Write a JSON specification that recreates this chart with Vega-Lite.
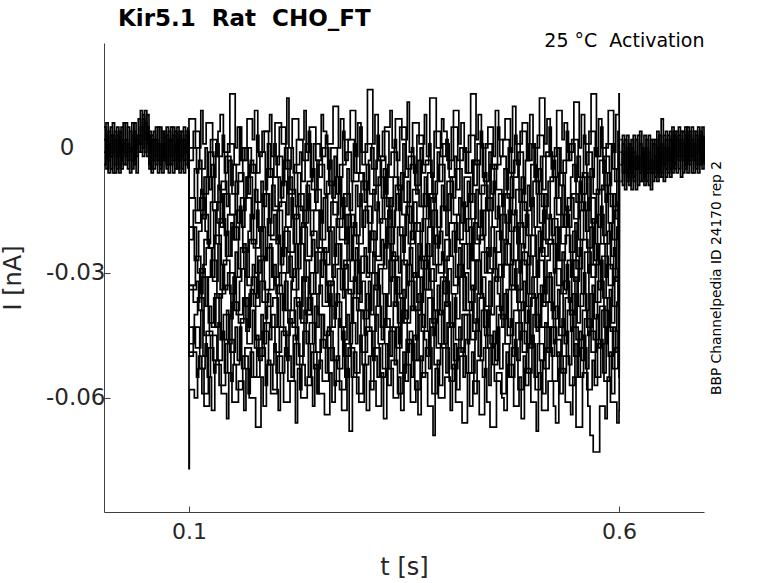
{
  "$schema": "https://vega.github.io/schema/vega-lite/v6.json",
  "width": 600,
  "height": 469,
  "autosize": {"type": "none"},
  "padding": {"left": 104, "top": 43, "right": 74, "bottom": 71},
  "background": "white",
  "config": {"view": {"stroke": null}, "font": "DejaVu Sans"},
  "title": {
    "text": "Kir5.1\u00a0 Rat\u00a0 CHO_FT",
    "anchor": "start",
    "frame": "group",
    "dx": 14,
    "offset": 0,
    "fontSize": 23,
    "fontWeight": "bold",
    "font": "DejaVu Sans",
    "color": "black"
  },
  "datasets": {
    "base": [
      {"s":0,"t":0.0012,"w":2,"x":-4,"y":5,"z":-1},
      {"s":0,"t":0.0035,"w":-5,"x":3,"y":-2,"z":6},
      {"s":0,"t":0.006,"w":4,"x":-6,"y":1,"z":-3},
      {"s":0,"t":0.0085,"w":-2,"x":5,"y":-5,"z":3},
      {"s":0,"t":0.011,"w":6,"x":-1,"y":3,"z":-6},
      {"s":0,"t":0.0135,"w":-4,"x":2,"y":-6,"z":4},
      {"s":0,"t":0.016,"w":3,"x":-5,"y":5,"z":-2},
      {"s":0,"t":0.0185,"w":-6,"x":4,"y":-1,"z":2},
      {"s":0,"t":0.021,"w":5,"x":-3,"y":2,"z":-5},
      {"s":0,"t":0.0235,"w":-1,"x":6,"y":-4,"z":1},
      {"s":0,"t":0.026,"w":2,"x":-2,"y":6,"z":-4},
      {"s":0,"t":0.0285,"w":-5,"x":1,"y":-3,"z":5},
      {"s":0,"t":0.031,"w":4,"x":-6,"y":0,"z":-1},
      {"s":0,"t":0.0335,"w":-3,"x":3,"y":-5,"z":6},
      {"s":0,"t":0.036,"w":6,"x":-4,"y":4,"z":-3},
      {"s":0,"t":0.0385,"w":-2,"x":2,"y":-6,"z":3},
      {"s":0,"t":0.041,"w":7,"x":1,"y":3,"z":-1},
      {"s":0,"t":0.0435,"w":1,"x":9,"y":-1,"z":5},
      {"s":0,"t":0.046,"w":8,"x":0,"y":7,"z":-2},
      {"s":0,"t":0.0485,"w":-1,"x":6,"y":2,"z":9},
      {"s":0,"t":0.051,"w":5,"x":-2,"y":8,"z":1},
      {"s":0,"t":0.0535,"w":-4,"x":3,"y":-5,"z":4},
      {"s":0,"t":0.056,"w":3,"x":-5,"y":2,"z":-6},
      {"s":0,"t":0.0585,"w":-5,"x":4,"y":-3,"z":2},
      {"s":0,"t":0.061,"w":2,"x":-2,"y":5,"z":-4},
      {"s":0,"t":0.0635,"w":-3,"x":5,"y":-6,"z":1},
      {"s":0,"t":0.066,"w":5,"x":-4,"y":1,"z":-5},
      {"s":0,"t":0.0685,"w":-6,"x":1,"y":-2,"z":4},
      {"s":0,"t":0.071,"w":1,"x":-3,"y":4,"z":-2},
      {"s":0,"t":0.0735,"w":-4,"x":5,"y":-5,"z":3},
      {"s":0,"t":0.076,"w":4,"x":-6,"y":2,"z":-4},
      {"s":0,"t":0.0785,"w":-2,"x":2,"y":-4,"z":5},
      {"s":0,"t":0.081,"w":5,"x":-3,"y":3,"z":-6},
      {"s":0,"t":0.0835,"w":-5,"x":4,"y":-1,"z":1},
      {"s":0,"t":0.086,"w":2,"x":-5,"y":5,"z":-3},
      {"s":0,"t":0.0885,"w":-3,"x":3,"y":-6,"z":4},
      {"s":0,"t":0.091,"w":4,"x":-2,"y":2,"z":-5},
      {"s":0,"t":0.0935,"w":-6,"x":5,"y":-3,"z":2},
      {"s":0,"t":0.096,"w":3,"x":-4,"y":4,"z":-1},
      {"s":0,"t":0.0985,"w":-2,"x":2,"y":-5,"z":5},
      {"s":1,"t":0.6015,"w":-8,"x":2,"y":-4,"z":-1},
      {"s":1,"t":0.604,"w":1,"x":-9,"y":3,"z":-6},
      {"s":1,"t":0.6065,"w":-6,"x":-1,"y":-10,"z":2},
      {"s":1,"t":0.609,"w":3,"x":-7,"y":0,"z":-8},
      {"s":1,"t":0.6115,"w":-9,"x":1,"y":-5,"z":-2},
      {"s":1,"t":0.614,"w":0,"x":-6,"y":2,"z":-10},
      {"s":1,"t":0.6165,"w":-7,"x":3,"y":-8,"z":-1},
      {"s":1,"t":0.619,"w":2,"x":-10,"y":-2,"z":-5},
      {"s":1,"t":0.6215,"w":-5,"x":-2,"y":-9,"z":3},
      {"s":1,"t":0.624,"w":4,"x":-8,"y":1,"z":-6},
      {"s":1,"t":0.6265,"w":-8,"x":0,"y":-4,"z":-1},
      {"s":1,"t":0.629,"w":-1,"x":-7,"y":3,"z":-9},
      {"s":1,"t":0.6315,"w":-6,"x":2,"y":-8,"z":0},
      {"s":1,"t":0.634,"w":3,"x":-9,"y":-1,"z":-5},
      {"s":1,"t":0.6365,"w":-10,"x":-3,"y":-6,"z":2},
      {"s":1,"t":0.639,"w":1,"x":-6,"y":2,"z":-8},
      {"s":1,"t":0.6415,"w":-5,"x":2,"y":-7,"z":-2},
      {"s":1,"t":0.644,"w":4,"x":-8,"y":0,"z":-6},
      {"s":1,"t":0.6465,"w":-7,"x":-1,"y":-5,"z":3},
      {"s":1,"t":0.649,"w":7,"x":-6,"y":1,"z":-7},
      {"s":1,"t":0.6515,"w":-4,"x":3,"y":-8,"z":0},
      {"s":1,"t":0.654,"w":2,"x":-7,"y":4,"z":-5},
      {"s":1,"t":0.6565,"w":-6,"x":0,"y":-3,"z":3},
      {"s":1,"t":0.659,"w":4,"x":-5,"y":2,"z":-7},
      {"s":1,"t":0.6615,"w":-3,"x":5,"y":-6,"z":1},
      {"s":1,"t":0.664,"w":3,"x":-4,"y":4,"z":-5},
      {"s":1,"t":0.6665,"w":-6,"x":2,"y":-2,"z":4},
      {"s":1,"t":0.669,"w":5,"x":-5,"y":3,"z":-3},
      {"s":1,"t":0.6715,"w":-2,"x":4,"y":-7,"z":2},
      {"s":1,"t":0.674,"w":4,"x":-3,"y":1,"z":-6},
      {"s":1,"t":0.6765,"w":-5,"x":5,"y":-4,"z":3},
      {"s":1,"t":0.679,"w":2,"x":-6,"y":5,"z":-2},
      {"s":1,"t":0.6815,"w":-4,"x":3,"y":-3,"z":4},
      {"s":1,"t":0.684,"w":5,"x":-2,"y":2,"z":-6},
      {"s":1,"t":0.6865,"w":-3,"x":4,"y":-6,"z":1},
      {"s":1,"t":0.689,"w":3,"x":-5,"y":4,"z":-4},
      {"s":1,"t":0.6915,"w":-6,"x":2,"y":-1,"z":5},
      {"s":1,"t":0.694,"w":4,"x":-4,"y":3,"z":-3},
      {"s":1,"t":0.6965,"w":-2,"x":5,"y":-5,"z":2},
      {"s":1,"t":0.6988,"w":3,"x":-3,"y":2,"z":-4}
    ],
    "step": [
      {"t":0.0998,"a":1,"b":-2,"c":3,"d":0,"e":-3,"f":2,"g":-1,"h":4,"i":-4,"j":1,"k":0,"l":-2,"m":3,"n":-1,"o":2,"p":-3},
      {"t":0.1,"a":7,"b":-3,"c":0,"d":-12,"e":-12,"f":-22,"g":-19,"h":-19,"i":-33,"j":-33,"k":-34,"l":-47,"m":-43,"n":-50,"o":-49,"p":-77},
      {"t":0.1004,"p":-58},
      {"t":0.1075,"a":0,"e":-18,"i":-26,"m":-48},{"t":0.105,"b":4,"f":-15,"j":-37,"n":-43},{"t":0.10875,"c":-6,"g":-27,"k":-32,"o":-55},{"t":0.10625,"d":-5,"h":-27,"l":-40,"p":-60},
      {"t":0.11375,"a":9,"e":-10,"i":-35,"m":-39},{"t":0.1125,"b":-5,"f":-12,"j":-29,"n":-53},{"t":0.11125,"c":-3,"g":-20,"k":-39,"o":-50},{"t":0.11,"d":-15,"h":-30,"l":-36,"p":-53},
      {"t":0.11625,"a":1,"e":-17,"i":-28,"m":-50},{"t":0.11875,"b":0,"f":-20,"j":-38,"n":-47},{"t":0.115,"c":-11,"g":-16,"k":-31,"o":-59},{"t":0.1175,"d":-7,"h":-22,"l":-45,"p":-62},
      {"t":0.12,"a":6,"e":-7,"i":-24,"m":-44},{"t":0.12125,"b":-7,"f":-23,"j":-31,"n":-55},{"t":0.1225,"c":-1,"g":-24,"k":-42,"o":-48},{"t":0.12375,"d":-10,"h":-24,"l":-38,"p":-55},
      {"t":0.1275,"a":-2,"e":-15,"i":-32,"m":-51},{"t":0.125,"b":2,"f":-13,"j":-27,"n":-45},{"t":0.12875,"c":-7,"g":-15,"k":-36,"o":-54},{"t":0.12625,"d":-4,"h":-31,"l":-43,"p":-63},
      {"t":0.13375,"a":4,"e":-9,"i":-23,"m":-42},{"t":0.1325,"b":-2,"f":-18,"j":-36,"n":-51},{"t":0.13125,"c":1,"g":-23,"k":-43,"o":-51},{"t":0.13,"d":-13,"h":-21,"l":-35,"p":-52},
      {"t":0.13625,"a":8,"e":-19,"i":-34,"m":-46},{"t":0.13875,"b":3,"f":-11,"j":-28,"n":-44},{"t":0.135,"c":-10,"g":-17,"k":-35,"o":-57},{"t":0.1375,"d":-8,"h":-28,"l":-46,"p":-59},
      {"t":0.14,"a":-1,"e":-11,"i":-27,"m":-40},{"t":0.14125,"b":-6,"f":-21,"j":-34,"n":-54},{"t":0.1425,"c":-2,"g":-26,"k":-33,"o":-47},{"t":0.14375,"d":-14,"h":-20,"l":-39,"p":-65},
      {"t":0.1475,"a":13,"e":-16,"i":-35,"m":-49},{"t":0.145,"b":1,"f":-16,"j":-30,"n":-46},{"t":0.14875,"c":-9,"g":-18,"k":-41,"o":-56},{"t":0.14625,"d":-3,"h":-26,"l":-47,"p":-54},
      {"t":0.15375,"a":0,"e":-8,"i":-25,"m":-43},{"t":0.1525,"b":-4,"f":-22,"j":-39,"n":-52},{"t":0.15125,"c":-4,"g":-22,"k":-31,"o":-52},{"t":0.15,"d":-11,"h":-19,"l":-37,"p":-61},
      {"t":0.15625,"a":5,"e":-18,"i":-31,"m":-51},{"t":0.15875,"b":5,"f":-14,"j":-32,"n":-43},{"t":0.155,"c":-8,"g":-15,"k":-40,"o":-58},{"t":0.1575,"d":-6,"h":-29,"l":-42,"p":-56},
      {"t":0.16,"a":-3,"e":-12,"i":-24,"m":-41},{"t":0.16125,"b":-3,"f":-19,"j":-29,"n":-53},{"t":0.1625,"c":0,"g":-25,"k":-36,"o":-50},{"t":0.16375,"d":-15,"h":-23,"l":-36,"p":-63},
      {"t":0.1675,"a":7,"e":-7,"i":-33,"m":-47},{"t":0.165,"b":0,"f":-12,"j":-38,"n":-48},{"t":0.16875,"c":-11,"g":-20,"k":-43,"o":-59},{"t":0.16625,"d":-7,"h":-31,"l":-44,"p":-53},
      {"t":0.17375,"a":2,"e":-17,"i":-28,"m":-39},{"t":0.1725,"b":-6,"f":-23,"j":-31,"n":-55},{"t":0.17125,"c":-3,"g":-16,"k":-34,"o":-49},{"t":0.17,"d":-4,"h":-22,"l":-35,"p":-60},
      {"t":0.17625,"a":9,"e":-10,"i":-35,"m":-48},{"t":0.17875,"b":3,"f":-15,"j":-36,"n":-45},{"t":0.175,"c":-6,"g":-24,"k":-38,"o":-55},{"t":0.1775,"d":-13,"h":-30,"l":-46,"p":-67},
      {"t":0.18,"a":-1,"e":-19,"i":-26,"m":-50},{"t":0.18125,"b":-2,"f":-20,"j":-27,"n":-51},{"t":0.1825,"c":-1,"g":-19,"k":-32,"o":-48},{"t":0.18375,"d":-8,"h":-19,"l":-40,"p":-55},
      {"t":0.1875,"a":4,"e":-11,"i":-34,"m":-42},{"t":0.185,"b":4,"f":-11,"j":-37,"n":-44},{"t":0.18875,"c":-10,"g":-27,"k":-41,"o":-57},{"t":0.18625,"d":-14,"h":-27,"l":-47,"p":-62},
      {"t":0.19375,"a":8,"e":-18,"i":-23,"m":-46},{"t":0.1925,"b":-7,"f":-21,"j":-34,"n":-52},{"t":0.19125,"c":1,"g":-17,"k":-35,"o":-51},{"t":0.19,"d":-5,"h":-24,"l":-38,"p":-52},
      {"t":0.19625,"a":-2,"e":-9,"i":-31,"m":-40},{"t":0.19875,"b":1,"f":-16,"j":-28,"n":-47},{"t":0.195,"c":-7,"g":-22,"k":-43,"o":-59},{"t":0.1975,"d":-15,"h":-31,"l":-36,"p":-58},
      {"t":0.2,"a":6,"e":-14,"i":-33,"m":-49},{"t":0.20125,"b":-4,"f":-23,"j":-35,"n":-54},{"t":0.2025,"c":-2,"g":-15,"k":-33,"o":-50},{"t":0.20375,"d":-7,"h":-21,"l":-43,"p":-63},
      {"t":0.2075,"a":1,"e":-8,"i":-24,"m":-44},{"t":0.205,"b":5,"f":-13,"j":-30,"n":-43},{"t":0.20875,"c":-9,"g":-26,"k":-39,"o":-54},{"t":0.20625,"d":-12,"h":-28,"l":-35,"p":-54},
      {"t":0.21375,"a":12,"e":-16,"i":-30,"m":-51},{"t":0.2125,"b":-5,"f":-19,"j":-39,"n":-50},{"t":0.21125,"c":0,"g":-19,"k":-32,"o":-48},{"t":0.21,"d":-3,"h":-20,"l":-45,"p":-61},
      {"t":0.21625,"a":0,"e":-7,"i":-26,"m":-41},{"t":0.21875,"b":0,"f":-12,"j":-32,"n":-55},{"t":0.215,"c":-11,"g":-25,"k":-42,"o":-56},{"t":0.2175,"d":-10,"h":-31,"l":-39,"p":-56},
      {"t":0.22,"a":7,"e":-17,"i":-34,"m":-43},{"t":0.22125,"b":-6,"f":-23,"j":-29,"n":-45},{"t":0.2225,"c":-4,"g":-16,"k":-36,"o":-47},{"t":0.22375,"d":-14,"h":-23,"l":-46,"p":-66},
      {"t":0.2275,"a":2,"e":-11,"i":-23,"m":-50},{"t":0.225,"b":2,"f":-14,"j":-38,"n":-52},{"t":0.22875,"c":-1,"g":-23,"k":-41,"o":-58},{"t":0.22625,"d":-6,"h":-29,"l":-37,"p":-53},
      {"t":0.23375,"a":9,"e":-19,"i":-32,"m":-39},{"t":0.2325,"b":-3,"f":-18,"j":-31,"n":-44},{"t":0.23125,"c":-8,"g":-18,"k":-31,"o":-52},{"t":0.23,"d":-15,"h":-19,"l":-42,"p":-60},
      {"t":0.23625,"a":-1,"e":-9,"i":-27,"m":-47},{"t":0.23875,"b":4,"f":-11,"j":-39,"n":-55},{"t":0.235,"c":1,"g":-27,"k":-40,"o":-57},{"t":0.2375,"d":-8,"h":-26,"l":-36,"p":-55},
      {"t":0.24,"a":5,"e":-15,"i":-35,"m":-42},{"t":0.24125,"b":-7,"f":-21,"j":-30,"n":-47},{"t":0.2425,"c":-10,"g":-20,"k":-35,"o":-49},{"t":0.24375,"d":-5,"h":-22,"l":-47,"p":-62},
      {"t":0.2475,"a":-3,"e":-10,"i":-25,"m":-49},{"t":0.245,"b":1,"f":-15,"j":-35,"n":-53},{"t":0.24875,"c":-3,"g":-24,"k":-43,"o":-59},{"t":0.24625,"d":-13,"h":-30,"l":-38,"p":-52},
      {"t":0.25375,"a":8,"e":-18,"i":-31,"m":-40},{"t":0.2525,"b":-2,"f":-22,"j":-27,"n":-46},{"t":0.25125,"c":-7,"g":-15,"k":-33,"o":-51},{"t":0.25,"d":-4,"h":-24,"l":-40,"p":-59},
      {"t":0.25625,"a":4,"e":-12,"i":-24,"m":-48},{"t":0.25875,"b":3,"f":-11,"j":-37,"n":-54},{"t":0.255,"c":0,"g":-25,"k":-38,"o":-56},{"t":0.2575,"d":-11,"h":-28,"l":-45,"p":-64},
      {"t":0.26,"a":1,"e":-8,"i":-33,"m":-44},{"t":0.26125,"b":-5,"f":-20,"j":-32,"n":-43},{"t":0.2625,"c":-9,"g":-19,"k":-32,"o":-48},{"t":0.26375,"d":-3,"h":-20,"l":-35,"p":-54},
      {"t":0.2675,"a":10,"e":-16,"i":-28,"m":-51},{"t":0.265,"b":0,"f":-13,"j":-38,"n":-51},{"t":0.26875,"c":-2,"g":-26,"k":-41,"o":-57},{"t":0.26625,"d":-12,"h":-31,"l":-43,"p":-61},
      {"t":0.27375,"a":0,"e":-7,"i":-23,"m":-41},{"t":0.2725,"b":-7,"f":-19,"j":-29,"n":-53},{"t":0.27125,"c":-11,"g":-17,"k":-35,"o":-50},{"t":0.27,"d":-7,"h":-23,"l":-37,"p":-56},
      {"t":0.27625,"a":7,"e":-17,"i":-34,"m":-43},{"t":0.27875,"b":4,"f":-12,"j":-36,"n":-44},{"t":0.275,"c":-4,"g":-22,"k":-43,"o":-58},{"t":0.2775,"d":-14,"h":-29,"l":-46,"p":-63},
      {"t":0.28,"a":2,"e":-11,"i":-27,"m":-50},{"t":0.28125,"b":-3,"f":-23,"j":-28,"n":-55},{"t":0.2825,"c":-1,"g":-16,"k":-34,"o":-47},{"t":0.28375,"d":-5,"h":-19,"l":-40,"p":-53},
      {"t":0.2875,"a":9,"e":-19,"i":-32,"m":-42},{"t":0.285,"b":2,"f":-16,"j":-35,"n":-48},{"t":0.28875,"c":-8,"g":-27,"k":-42,"o":-55},{"t":0.28625,"d":-15,"h":-27,"l":-47,"p":-68},
      {"t":0.29375,"a":-2,"e":-9,"i":-24,"m":-47},{"t":0.2925,"b":-6,"f":-21,"j":-27,"n":-54},{"t":0.29125,"c":1,"g":-18,"k":-31,"o":-49},{"t":0.29,"d":-8,"h":-21,"l":-36,"p":-55},
      {"t":0.29625,"a":6,"e":-14,"i":-35,"m":-39},{"t":0.29875,"b":5,"f":-11,"j":-37,"n":-45},{"t":0.295,"c":-6,"g":-23,"k":-39,"o":-59},{"t":0.2975,"d":-6,"h":-30,"l":-39,"p":-61},
      {"t":0.3,"a":-1,"e":-8,"i":-26,"m":-49},{"t":0.30125,"b":-4,"f":-19,"j":-32,"n":-52},{"t":0.3025,"c":-10,"g":-15,"k":-41,"o":-52},{"t":0.30375,"d":-13,"h":-24,"l":-45,"p":-52},
      {"t":0.3075,"a":14,"e":-18,"i":-30,"m":-44},{"t":0.305,"b":1,"f":-14,"j":-39,"n":-43},{"t":0.30875,"c":-3,"g":-25,"k":-32,"o":-50},{"t":0.30625,"d":-4,"h":-31,"l":-35,"p":-63},
      {"t":0.31375,"a":1,"e":-10,"i":-25,"m":-51},{"t":0.3125,"b":-5,"f":-22,"j":-30,"n":-50},{"t":0.31125,"c":0,"g":-20,"k":-40,"o":-58},{"t":0.31,"d":-11,"h":-20,"l":-44,"p":-56},
      {"t":0.31625,"a":8,"e":-15,"i":-34,"m":-40},{"t":0.31875,"b":3,"f":-13,"j":-38,"n":-55},{"t":0.315,"c":-9,"g":-26,"k":-33,"o":-48},{"t":0.3175,"d":-3,"h":-27,"l":-38,"p":-62},
      {"t":0.32,"a":-3,"e":-7,"i":-28,"m":-47},{"t":0.32125,"b":-2,"f":-18,"j":-29,"n":-47},{"t":0.3225,"c":-2,"g":-17,"k":-43,"o":-55},{"t":0.32375,"d":-12,"h":-22,"l":-46,"p":-54},
      {"t":0.3275,"a":5,"e":-17,"i":-23,"m":-41},{"t":0.325,"b":4,"f":-12,"j":-35,"n":-53},{"t":0.32875,"c":-11,"g":-24,"k":-35,"o":-47},{"t":0.32625,"d":-5,"h":-29,"l":-35,"p":-65},
      {"t":0.33375,"a":9,"e":-12,"i":-32,"m":-50},{"t":0.3325,"b":-7,"f":-23,"j":-27,"n":-44},{"t":0.33125,"c":-4,"g":-15,"k":-38,"o":-57},{"t":0.33,"d":-14,"h":-19,"l":-43,"p":-53},
      {"t":0.33625,"a":0,"e":-19,"i":-25,"m":-43},{"t":0.33875,"b":2,"f":-15,"j":-38,"n":-52},{"t":0.335,"c":-1,"g":-27,"k":-31,"o":-51},{"t":0.3375,"d":-7,"h":-26,"l":-37,"p":-60},
      {"t":0.34,"a":7,"e":-9,"i":-35,"m":-48},{"t":0.34125,"b":-3,"f":-11,"j":-31,"n":-43},{"t":0.3425,"c":-10,"g":-19,"k":-42,"o":-59},{"t":0.34375,"d":-15,"h":-30,"l":-47,"p":-55},
      {"t":0.3475,"a":2,"e":-16,"i":-27,"m":-39},{"t":0.345,"b":5,"f":-21,"j":-36,"n":-54},{"t":0.34875,"c":1,"g":-25,"k":-34,"o":-49},{"t":0.34625,"d":-6,"h":-21,"l":-36,"p":-63},
      {"t":0.35375,"a":11,"e":-8,"i":-33,"m":-49},{"t":0.3525,"b":-5,"f":-14,"j":-28,"n":-46},{"t":0.35125,"c":-7,"g":-16,"k":-41,"o":-56},{"t":0.35,"d":-13,"h":-28,"l":-42,"p":-52},
      {"t":0.35625,"a":-1,"e":-18,"i":-24,"m":-44},{"t":0.35875,"b":0,"f":-22,"j":-39,"n":-55},{"t":0.355,"c":-2,"g":-23,"k":-32,"o":-47},{"t":0.3575,"d":-4,"h":-20,"l":-38,"p":-61},
      {"t":0.36,"a":6,"e":-10,"i":-31,"m":-51},{"t":0.36125,"b":-6,"f":-13,"j":-30,"n":-45},{"t":0.3625,"c":-9,"g":-18,"k":-39,"o":-58},{"t":0.36375,"d":-11,"h":-31,"l":-46,"p":-56},
      {"t":0.3675,"a":1,"e":-14,"i":-26,"m":-40},{"t":0.365,"b":3,"f":-20,"j":-37,"n":-51},{"t":0.36875,"c":0,"g":-27,"k":-31,"o":-50},{"t":0.36625,"d":-3,"h":-23,"l":-35,"p":-64},
      {"t":0.37375,"a":8,"e":-7,"i":-34,"m":-46},{"t":0.3725,"b":-4,"f":-11,"j":-27,"n":-44},{"t":0.37125,"c":-6,"g":-17,"k":-43,"o":-55},{"t":0.37,"d":-14,"h":-29,"l":-44,"p":-54},
      {"t":0.37625,"a":-2,"e":-17,"i":-23,"m":-50},{"t":0.37875,"b":1,"f":-19,"j":-34,"n":-53},{"t":0.375,"c":-3,"g":-26,"k":-34,"o":-48},{"t":0.3775,"d":-6,"h":-19,"l":-36,"p":-62},
      {"t":0.38,"a":12,"e":-11,"i":-32,"m":-41},{"t":0.38125,"b":-7,"f":-12,"j":-29,"n":-43},{"t":0.3825,"c":-11,"g":-15,"k":-42,"o":-59},{"t":0.38375,"d":-13,"h":-28,"l":-45,"p":-69},
      {"t":0.3875,"a":0,"e":-19,"i":-28,"m":-48},{"t":0.385,"b":4,"f":-23,"j":-39,"n":-52},{"t":0.38875,"c":-1,"g":-24,"k":-33,"o":-51},{"t":0.38625,"d":-8,"h":-21,"l":-39,"p":-53},
      {"t":0.39375,"a":7,"e":-9,"i":-25,"m":-39},{"t":0.3925,"b":-2,"f":-14,"j":-31,"n":-47},{"t":0.39125,"c":-8,"g":-20,"k":-40,"o":-57},{"t":0.39,"d":-4,"h":-30,"l":-47,"p":-60},
      {"t":0.39625,"a":4,"e":-15,"i":-35,"m":-47},{"t":0.39875,"b":2,"f":-21,"j":-38,"n":-54},{"t":0.395,"c":1,"g":-27,"k":-32,"o":-48},{"t":0.3975,"d":-15,"h":-22,"l":-37,"p":-55},
      {"t":0.4,"a":-3,"e":-8,"i":-26,"m":-42},{"t":0.40125,"b":-5,"f":-11,"j":-29,"n":-43},{"t":0.4025,"c":-7,"g":-18,"k":-43,"o":-56},{"t":0.40375,"d":-7,"h":-26,"l":-43,"p":-63},
      {"t":0.4075,"a":9,"e":-16,"i":-33,"m":-51},{"t":0.405,"b":5,"f":-18,"j":-35,"n":-53},{"t":0.40875,"c":-2,"g":-25,"k":-36,"o":-47},{"t":0.40625,"d":-12,"h":-20,"l":-35,"p":-52},
      {"t":0.41375,"a":1,"e":-12,"i":-24,"m":-43},{"t":0.4125,"b":-3,"f":-22,"j":-28,"n":-48},{"t":0.41125,"c":-10,"g":-16,"k":-41,"o":-58},{"t":0.41,"d":-5,"h":-31,"l":-46,"p":-61},
      {"t":0.41625,"a":6,"e":-18,"i":-31,"m":-49},{"t":0.41875,"b":0,"f":-13,"j":-39,"n":-55},{"t":0.415,"c":0,"g":-23,"k":-31,"o":-50},{"t":0.4175,"d":-14,"h":-23,"l":-40,"p":-66},
      {"t":0.42,"a":-1,"e":-7,"i":-23,"m":-40},{"t":0.42125,"b":-6,"f":-20,"j":-30,"n":-46},{"t":0.4225,"c":-6,"g":-17,"k":-39,"o":-54},{"t":0.42375,"d":-8,"h":-29,"l":-47,"p":-54},
      {"t":0.4275,"a":13,"e":-17,"i":-34,"m":-46},{"t":0.425,"b":3,"f":-11,"j":-37,"n":-54},{"t":0.42875,"c":-3,"g":-27,"k":-33,"o":-49},{"t":0.42625,"d":-13,"h":-19,"l":-37,"p":-62},
      {"t":0.43375,"a":2,"e":-10,"i":-27,"m":-41},{"t":0.4325,"b":-4,"f":-23,"j":-27,"n":-44},{"t":0.43125,"c":-9,"g":-18,"k":-42,"o":-59},{"t":0.43,"d":-3,"h":-27,"l":-44,"p":-56},
      {"t":0.43625,"a":8,"e":-19,"i":-35,"m":-50},{"t":0.43875,"b":4,"f":-15,"j":-36,"n":-51},{"t":0.435,"c":1,"g":-22,"k":-35,"o":-51},{"t":0.4375,"d":-11,"h":-21,"l":-36,"p":-64},
      {"t":0.44,"a":0,"e":-9,"i":-25,"m":-39},{"t":0.44125,"b":-7,"f":-21,"j":-31,"n":-55},{"t":0.4425,"c":-8,"g":-15,"k":-43,"o":-48},{"t":0.44375,"d":-6,"h":-30,"l":-45,"p":-53},
      {"t":0.4475,"a":5,"e":-15,"i":-30,"m":-48},{"t":0.445,"b":1,"f":-12,"j":-38,"n":-45},{"t":0.44875,"c":-1,"g":-26,"k":-32,"o":-57},{"t":0.44625,"d":-15,"h":-24,"l":-39,"p":-61},
      {"t":0.45375,"a":-2,"e":-8,"i":-24,"m":-44},{"t":0.4525,"b":-5,"f":-19,"j":-29,"n":-52},{"t":0.45125,"c":-11,"g":-19,"k":-40,"o":-47},{"t":0.45,"d":-4,"h":-29,"l":-47,"p":-67},
      {"t":0.45625,"a":9,"e":-17,"i":-32,"m":-51},{"t":0.45875,"b":5,"f":-14,"j":-35,"n":-43},{"t":0.455,"c":-4,"g":-25,"k":-31,"o":-56},{"t":0.4575,"d":-10,"h":-20,"l":-38,"p":-54},
      {"t":0.46,"a":2,"e":-11,"i":-28,"m":-40},{"t":0.46125,"b":-2,"f":-22,"j":-39,"n":-53},{"t":0.4625,"c":-2,"g":-16,"k":-41,"o":-59},{"t":0.46375,"d":-14,"h":-31,"l":-43,"p":-60},
      {"t":0.4675,"a":7,"e":-18,"i":-23,"m":-47},{"t":0.465,"b":2,"f":-11,"j":-28,"n":-47},{"t":0.46875,"c":-10,"g":-23,"k":-34,"o":-49},{"t":0.46625,"d":-5,"h":-22,"l":-35,"p":-63},
      {"t":0.47375,"a":-1,"e":-7,"i":-33,"m":-41},{"t":0.4725,"b":-6,"f":-20,"j":-34,"n":-55},{"t":0.47125,"c":0,"g":-15,"k":-43,"o":-55},{"t":0.47,"d":-12,"h":-28,"l":-45,"p":-52},
      {"t":0.47625,"a":10,"e":-16,"i":-27,"m":-50},{"t":0.47875,"b":3,"f":-15,"j":-29,"n":-46},{"t":0.475,"c":-7,"g":-27,"k":-33,"o":-48},{"t":0.4775,"d":-3,"h":-19,"l":-39,"p":-62},
      {"t":0.48,"a":1,"e":-10,"i":-34,"m":-42},{"t":0.48125,"b":-4,"f":-23,"j":-37,"n":-51},{"t":0.4825,"c":-1,"g":-18,"k":-39,"o":-58},{"t":0.48375,"d":-13,"h":-30,"l":-46,"p":-55},
      {"t":0.4875,"a":6,"e":-19,"i":-25,"m":-49},{"t":0.485,"b":4,"f":-13,"j":-27,"n":-44},{"t":0.48875,"c":-11,"g":-24,"k":-32,"o":-50},{"t":0.48625,"d":-7,"h":-23,"l":-37,"p":-65},
      {"t":0.49375,"a":-3,"e":-9,"i":-35,"m":-39},{"t":0.4925,"b":-3,"f":-21,"j":-38,"n":-54},{"t":0.49125,"c":-3,"g":-16,"k":-42,"o":-57},{"t":0.49,"d":-15,"h":-28,"l":-47,"p":-53},
      {"t":0.49625,"a":8,"e":-14,"i":-26,"m":-48},{"t":0.49875,"b":1,"f":-12,"j":-31,"n":-45},{"t":0.495,"c":1,"g":-26,"k":-35,"o":-47},{"t":0.4975,"d":-4,"h":-21,"l":-36,"p":-61},
      {"t":0.5,"a":0,"e":-8,"i":-31,"m":-40},{"t":0.50125,"b":-7,"f":-19,"j":-36,"n":-55},{"t":0.5025,"c":-8,"g":-19,"k":-43,"o":-58},{"t":0.50375,"d":-11,"h":-31,"l":-44,"p":-68},
      {"t":0.5075,"a":12,"e":-18,"i":-24,"m":-51},{"t":0.505,"b":3,"f":-11,"j":-27,"n":-47},{"t":0.50875,"c":-2,"g":-25,"k":-33,"o":-51},{"t":0.50625,"d":-5,"h":-20,"l":-35,"p":-54},
      {"t":0.51375,"a":1,"e":-11,"i":-35,"m":-42},{"t":0.5125,"b":-2,"f":-22,"j":-37,"n":-53},{"t":0.51125,"c":-10,"g":-15,"k":-38,"o":-59},{"t":0.51,"d":-14,"h":-26,"l":-43,"p":-63},
      {"t":0.51625,"a":7,"e":-17,"i":-27,"m":-49},{"t":0.51875,"b":5,"f":-16,"j":-30,"n":-43},{"t":0.515,"c":-1,"g":-23,"k":-31,"o":-48},{"t":0.5175,"d":-8,"h":-22,"l":-37,"p":-56},
      {"t":0.52,"a":-2,"e":-7,"i":-23,"m":-43},{"t":0.52125,"b":-5,"f":-21,"j":-39,"n":-50},{"t":0.5225,"c":-7,"g":-17,"k":-41,"o":-56},{"t":0.52375,"d":-3,"h":-30,"l":-47,"p":-62},
      {"t":0.5275,"a":9,"e":-16,"i":-33,"m":-50},{"t":0.525,"b":0,"f":-12,"j":-29,"n":-46},{"t":0.52875,"c":0,"g":-27,"k":-34,"o":-49},{"t":0.52625,"d":-12,"h":-19,"l":-38,"p":-66},
      {"t":0.53375,"a":2,"e":-9,"i":-25,"m":-41},{"t":0.5325,"b":-6,"f":-23,"j":-35,"n":-54},{"t":0.53125,"c":-9,"g":-19,"k":-43,"o":-59},{"t":0.53,"d":-6,"h":-27,"l":-45,"p":-53},
      {"t":0.53625,"a":6,"e":-19,"i":-34,"m":-47},{"t":0.53875,"b":4,"f":-14,"j":-28,"n":-44},{"t":0.535,"c":-3,"g":-16,"k":-32,"o":-50},{"t":0.5375,"d":-15,"h":-21,"l":-36,"p":-61},
      {"t":0.54,"a":-1,"e":-12,"i":-27,"m":-39},{"t":0.54125,"b":-3,"f":-19,"j":-37,"n":-52},{"t":0.5425,"c":1,"g":-25,"k":-40,"o":-57},{"t":0.54375,"d":-7,"h":-31,"l":-44,"p":-64},
      {"t":0.5475,"a":11,"e":-17,"i":-32,"m":-50},{"t":0.545,"b":2,"f":-11,"j":-27,"n":-43},{"t":0.54875,"c":-8,"g":-18,"k":-31,"o":-47},{"t":0.54625,"d":-4,"h":-20,"l":-35,"p":-55},
      {"t":0.55375,"a":0,"e":-8,"i":-24,"m":-44},{"t":0.5525,"b":-7,"f":-22,"j":-38,"n":-55},{"t":0.55125,"c":-2,"g":-26,"k":-42,"o":-55},{"t":0.55,"d":-13,"h":-29,"l":-46,"p":-67},
      {"t":0.55625,"a":8,"e":-15,"i":-35,"m":-51},{"t":0.55875,"b":3,"f":-13,"j":-30,"n":-45},{"t":0.555,"c":-11,"g":-15,"k":-35,"o":-48},{"t":0.5575,"d":-6,"h":-22,"l":-39,"p":-54},
      {"t":0.56,"a":1,"e":-7,"i":-25,"m":-41},{"t":0.56125,"b":-4,"f":-20,"j":-39,"n":-53},{"t":0.5625,"c":-1,"g":-24,"k":-43,"o":-58},{"t":0.56375,"d":-15,"h":-30,"l":-45,"p":-62},
      {"t":0.5675,"a":13,"e":-18,"i":-31,"m":-49},{"t":0.565,"b":4,"f":-12,"j":-28,"n":-44},{"t":0.56875,"c":-7,"g":-17,"k":-33,"o":-51},{"t":0.56625,"d":-5,"h":-19,"l":-35,"p":-69},
      {"t":0.57375,"a":-2,"e":-10,"i":-23,"m":-40},{"t":0.5725,"b":-2,"f":-23,"j":-37,"n":-55},{"t":0.57125,"c":0,"g":-27,"k":-41,"o":-57},{"t":0.57,"d":-11,"h":-28,"l":-46,"p":-73},
      {"t":0.57625,"a":7,"e":-19,"i":-34,"m":-48},{"t":0.57875,"b":5,"f":-14,"j":-27,"n":-46},{"t":0.575,"c":-10,"g":-16,"k":-32,"o":-47},{"t":0.5775,"d":-3,"h":-23,"l":-38,"p":-62},
      {"t":0.58,"a":0,"e":-9,"i":-26,"m":-39},{"t":0.58125,"b":-6,"f":-21,"j":-36,"n":-54},{"t":0.5825,"c":-2,"g":-23,"k":-43,"o":-56},{"t":0.58375,"d":-13,"h":-31,"l":-47,"p":-65},
      {"t":0.5875,"a":9,"e":-18,"i":-33,"m":-50},{"t":0.585,"b":1,"f":-11,"j":-28,"n":-43},{"t":0.58875,"c":-9,"g":-18,"k":-34,"o":-49},{"t":0.58625,"d":-6,"h":-20,"l":-36,"p":-55},
      {"t":0.59375,"a":-1,"e":-11,"i":-24,"m":-43},{"t":0.5925,"b":-5,"f":-22,"j":-38,"n":-53},{"t":0.59125,"c":1,"g":-26,"k":-42,"o":-59},{"t":0.59,"d":-14,"h":-29,"l":-44,"p":-61},
      {"t":0.59625,"a":8,"e":-17,"i":-32,"m":-49},{"t":0.59875,"b":4,"f":-13,"j":-29,"n":-44},{"t":0.595,"c":-8,"g":-15,"k":-31,"o":-48},{"t":0.5975,"d":-5,"h":-19,"l":-37,"p":-66},
      {"t":0.6,"a":13,"b":-4,"c":-6,"d":-11,"e":-8,"f":-20,"g":-24,"h":-27,"i":-25,"j":-36,"k":-39,"l":-45,"m":-42,"n":-52,"o":-55,"p":-63},
      {"t":0.6002,"a":-2,"b":3,"c":-4,"d":1,"e":-6,"f":2,"g":-3,"h":0,"i":4,"j":-5,"k":-1,"l":3,"m":-2,"n":-7,"o":1,"p":-4}
    ]
  },
  "layer": [
    {
      "data": {"name": "base"},
      "transform": [{"fold": ["w", "x", "y", "z"], "as": ["k", "v"]}],
      "mark": {"type": "line", "color": "black", "strokeWidth": 1.7, "interpolate": "step-after"},
      "encoding": {
        "x": {
          "field": "t",
          "type": "quantitative",
          "scale": {"domain": [0.0012, 0.6988], "nice": false, "zero": false},
          "axis": {
            "orient": "bottom",
            "values": [0.1, 0.6],
            "format": ".1f",
            "title": "t [s]",
            "grid": false,
            "tickSize": -6,
            "tickColor": "#404040",
            "domainColor": "#404040",
            "labelColor": "#262626",
            "labelFont": "DejaVu Sans",
            "labelFontSize": 22,
            "labelPadding": 15,
            "titleFont": "DejaVu Sans",
            "titleFontSize": 24,
            "titleFontWeight": "normal",
            "titleColor": "#262626",
            "titlePadding": 13
          }
        },
        "y": {
          "field": "v",
          "type": "quantitative",
          "scale": {"domain": [-87.4, 25.2], "nice": false, "zero": false},
          "axis": {
            "orient": "left",
            "values": [-60, -30, 0],
            "labelExpr": "datum.value == 0 ? '0' : '-0.0' + (-datum.value / 10)",
            "title": "I [nA]",
            "grid": false,
            "tickSize": -6,
            "tickColor": "#404040",
            "domainColor": "#404040",
            "labelColor": "#262626",
            "labelFont": "DejaVu Sans",
            "labelFontSize": 23,
            "labelPadding": {"condition": {"test": "datum.value == 0", "value": 36}, "value": 5},
            "titleFont": "DejaVu Sans",
            "titleFontSize": 24,
            "titleFontWeight": "normal",
            "titleColor": "#262626",
            "titlePadding": 20
          }
        },
        "detail": [{"field": "s"}, {"field": "k"}]
      }
    },
    {
      "data": {"name": "step"},
      "transform": [
        {"fold": ["a", "b", "c", "d", "e", "f", "g", "h", "i", "j", "k", "l", "m", "n", "o", "p"], "as": ["k", "v"]},
        {"filter": "isValid(datum.v)"}
      ],
      "mark": {"type": "line", "color": "black", "strokeWidth": 1.7, "interpolate": "step-after"},
      "encoding": {
        "x": {"field": "t", "type": "quantitative", "axis": null},
        "y": {"field": "v", "type": "quantitative", "axis": null},
        "detail": {"field": "k"}
      }
    },
    {
      "data": {"values": [{"t": 0.6, "v": 0}]},
      "mark": {"type": "point", "opacity": 0},
      "encoding": {
        "x": {
          "field": "t",
          "type": "quantitative",
          "axis": {
            "orient": "top",
            "domain": false,
            "ticks": false,
            "labels": false,
            "grid": false,
            "title": "25 °C\u00a0 Activation",
            "titleAnchor": "end",
            "titleAlign": "right",
            "titleBaseline": "alphabetic",
            "titlePadding": -3,
            "titleFont": "DejaVu Sans",
            "titleFontSize": 19,
            "titleFontWeight": "normal",
            "titleColor": "black"
          }
        },
        "y": {
          "field": "v",
          "type": "quantitative",
          "axis": {
            "orient": "right",
            "domain": false,
            "ticks": false,
            "labels": false,
            "grid": false,
            "title": "BBP Channelpedia ID 24170 rep 2",
            "titleAngle": 270,
            "titleBaseline": "middle",
            "titlePadding": 12,
            "titleFont": "DejaVu Sans",
            "titleFontSize": 13.8,
            "titleFontWeight": "normal",
            "titleColor": "black"
          }
        }
      }
    }
  ],
  "resolve": {"axis": {"x": "independent", "y": "independent"}}
}
